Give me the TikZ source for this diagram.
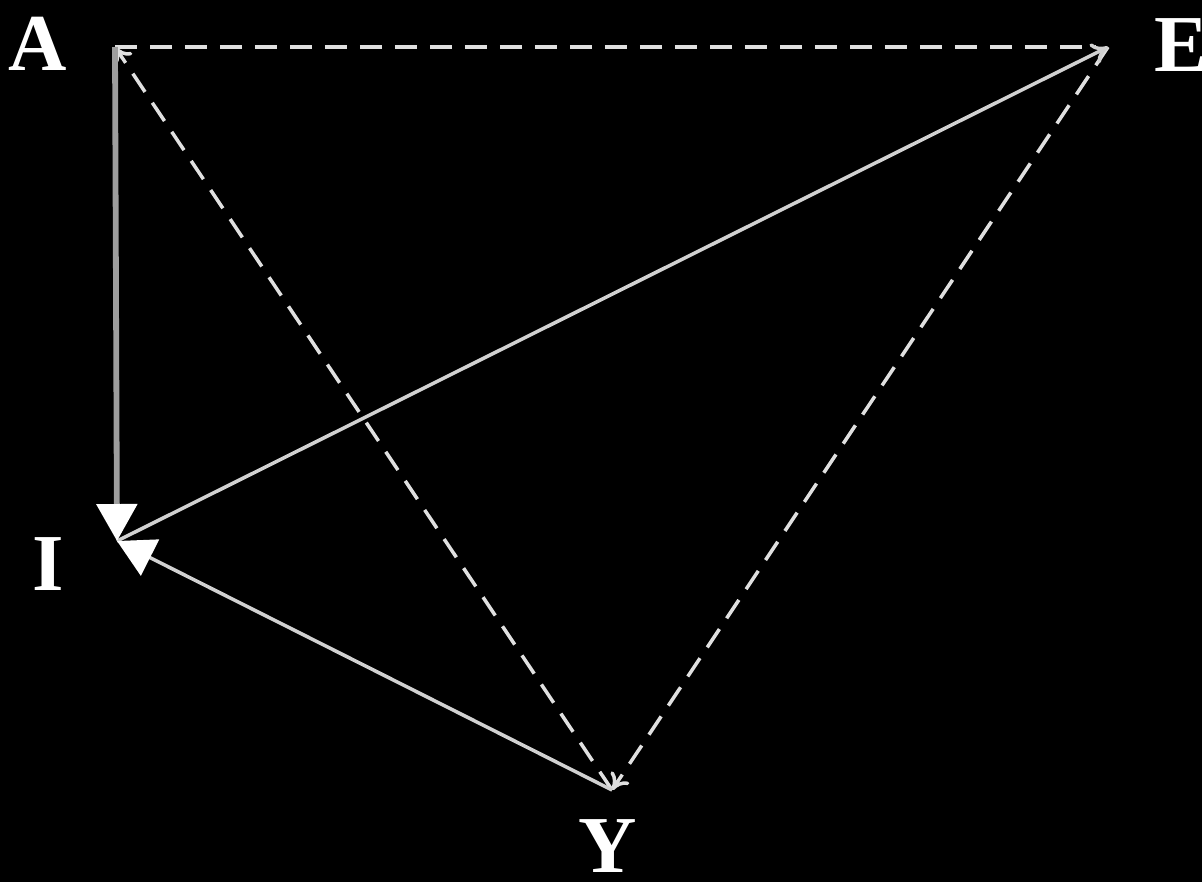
\documentclass[tikz,border=0pt]{standalone}
\usepackage{fontspec}
\setmainfont{Liberation Serif}
\usetikzlibrary{arrows.meta}
\begin{document}
\begin{tikzpicture}[x=0.02cm,y=-0.02cm,
  lbl/.style={text=white,font=\fontsize{46}{50}\selectfont\bfseries,inner sep=0pt},
  solidln/.style={draw=white!82!black,line width=2pt},
  dashln/.style={draw=white!88!black,line width=2pt,dash pattern=on 0.44cm off 0.26cm},
  bigtip/.style={-{Triangle[length=0.74cm,width=0.8cm,color=white]}},
  smalltip/.style={-{To[length=0.32cm,width=0.44cm]}}]
\fill[black] (0,0) rectangle (1202,882);
\useasboundingbox (0,0) rectangle (1202,882);
\coordinate (A) at (115,47);
\coordinate (E) at (1108,47);
\coordinate (I) at (117,541);
\coordinate (Y) at (612,790);
\node[lbl] (la) at (38,44) {A};
\node[lbl] (le) at (1181,45) {E};
\node[lbl] (li) at (48,564) {I};
\node[lbl] (ly) at (608,846) {Y};
\draw[dashln] (A) -- (1095,47);
\draw[dashln,smalltip] (Y) -- (A);
\draw[dashln,smalltip] (E) -- (Y);
\draw[solidln,smalltip] (I) -- (E);
\draw[draw=white!62!black,line width=3.3pt,bigtip] (A) -- (I);
\draw[solidln,bigtip] (Y) -- (I);
\end{tikzpicture}
\end{document}
